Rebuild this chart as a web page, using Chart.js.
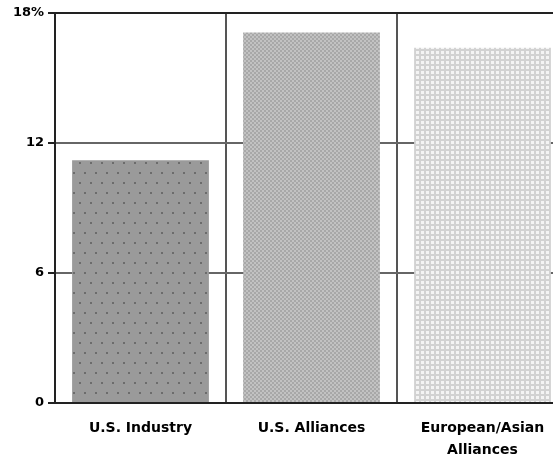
<!DOCTYPE html>
<html>
<head>
<meta charset="utf-8">
<script src="https://cdn.jsdelivr.net/npm/chart.js@4/dist/chart.umd.min.js"></script>
<style>
  html, body { margin: 0; padding: 0; background: #fff; overflow: hidden; }
  #wrap { position: relative; width: 568px; height: 456px; }
</style>
</head>
<body>
<div id="wrap"><canvas id="c" width="568" height="456"></canvas></div>
<script>
// Chart data
const categories = ["U.S. Industry", "U.S. Alliances", ["European/Asian", "Alliances"]];
const shareValues = [11.2, 17.1, 16.4];
const yTicks = [0, 6, 12, 18];

// Small tiled fill patterns for the bars
function makePattern(w, h, draw) {
  const c = document.createElement('canvas');
  c.width = w; c.height = h;
  const g = c.getContext('2d');
  draw(g);
  return g.createPattern(c, 'repeat');
}
const ctx0 = document.getElementById('c').getContext('2d');
const dottedDark = makePattern(11, 20, g => {
  g.fillStyle = '#9a9a9a'; g.fillRect(0, 0, 11, 20);
  g.fillStyle = '#6c6c6c';
  g.fillRect(2, 2, 2, 2);
  g.fillRect(7, 12, 2, 2);
});
const checkerMid = makePattern(4, 4, g => {
  g.fillStyle = '#a8a8a8'; g.fillRect(0, 0, 4, 4);
  g.fillStyle = '#c2c2c2';
  g.fillRect(0, 0, 2, 2);
  g.fillRect(2, 2, 2, 2);
});
const gridLight = makePattern(5, 5, g => {
  g.fillStyle = '#d2d2d2'; g.fillRect(0, 0, 5, 5);
  g.fillStyle = '#f4f4f4';
  g.fillRect(1, 1, 3, 3);
});

const labelFont = 'DejaVu Sans, Verdana, sans-serif';

const chart = new Chart(ctx0, {
  type: 'bar',
  data: {
    labels: categories,
    datasets: [{
      data: shareValues,
      backgroundColor: [dottedDark, checkerMid, gridLight],
      borderWidth: 0,
      barPercentage: 0.8,
      categoryPercentage: 1.0
    }]
  },
  options: {
    responsive: false,
    animation: false,
    devicePixelRatio: 1,
    layout: { padding: { top: 13, right: 0, bottom: 0, left: 0 } },
    plugins: { legend: { display: false }, tooltip: { enabled: false } },
    scales: {
      x: {
        offset: true,
        grid: {
          offset: true,
          drawTicks: false,
          color: '#555',
          lineWidth: 2,
          z: -1
        },
        border: { color: '#222', width: 2, z: 1 },
        ticks: {
          color: '#000',
          padding: 14,
          maxRotation: 0,
          autoSkip: false,
          font: { family: labelFont, size: 14, weight: 'bold', lineHeight: 1.57 }
        },
        afterFit(scale) { scale.height = 53; }
      },
      y: {
        min: 0,
        max: 18,
        afterBuildTicks(scale) { scale.ticks = yTicks.map(v => ({ value: v })); },
        grid: {
          color: ctx => (ctx.tick && ctx.tick.value === 18) ? '#222' : '#666',
          lineWidth: 2,
          tickLength: 7,
          tickColor: '#222',
          z: -1
        },
        border: { color: '#222', width: 2, z: 1 },
        ticks: {
          color: '#000',
          padding: 4,
          font: { family: labelFont, size: 13, weight: 'bold' },
          callback: v => v === 18 ? '18%' : String(v)
        },
        afterFit(scale) { scale.width = 55; }
      }
    }
  }
});
</script>
</body>
</html>
